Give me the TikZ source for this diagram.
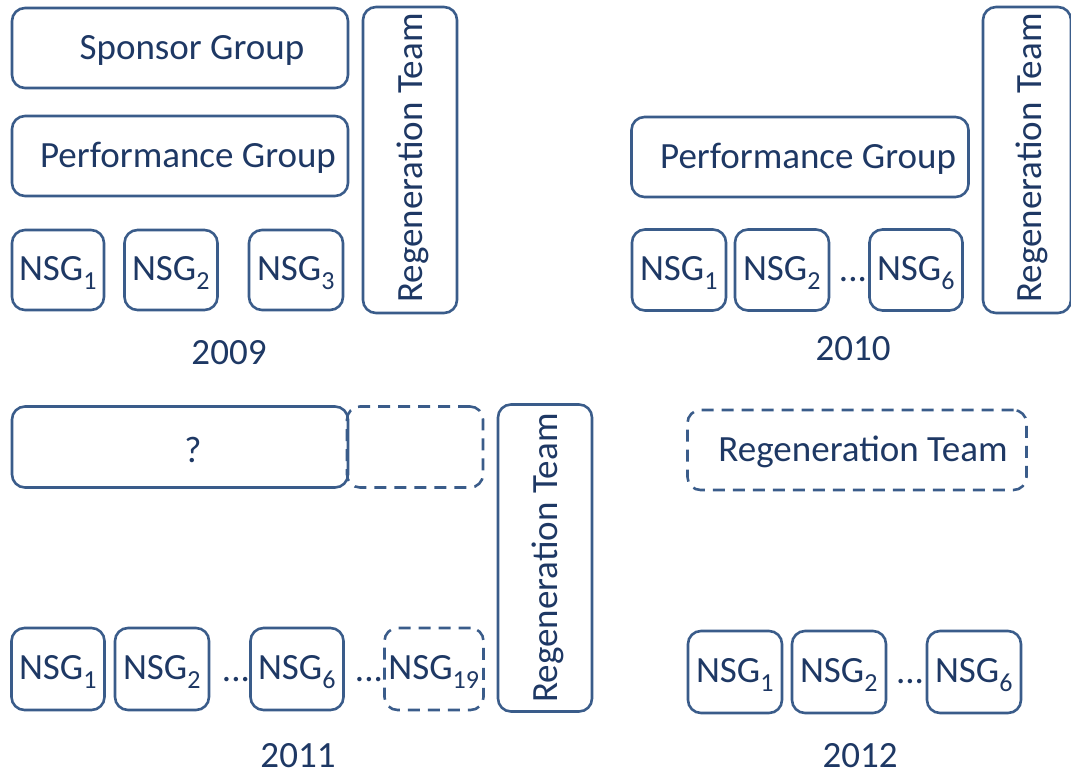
\documentclass[tikz,border=0pt]{standalone}
\usepackage{fontspec}
\setmainfont{Carlito}
\definecolor{boxcol}{RGB}{58,92,138}
\definecolor{txtcol}{RGB}{30,56,100}
\begin{document}
\begin{tikzpicture}[x=1pt,y=-1pt,
  box/.style={draw=boxcol,line width=2.6pt,rounded corners=13pt,inner sep=0pt},
  dbox/.style={box,dash pattern=on 12pt off 8pt},
  lbl/.style={text=txtcol,font=\fontsize{37}{44}\selectfont,inner sep=0pt},
]
\useasboundingbox (0,0) rectangle (1071,782);
\newcommand{\nsg}[1]{NSG\textsubscript{\fontsize{26}{30}\selectfont#1}}
% ---------- 2009 ----------
\node[box,minimum width=336,minimum height=80] (sg9) at (180,48) {};
\node[lbl] (sg9t) at (192,50) {Sponsor Group};
\node[box,minimum width=336,minimum height=80] (pg9) at (180,156) {};
\node[lbl] (pg9t) at (188,158) {Performance Group};
\node[box,minimum width=92,minimum height=80] (n91) at (58,270) {};
\node[lbl] (n91t) at (58,273) {\nsg{1}};
\node[box,minimum width=93,minimum height=80] (n92) at (171,270) {};
\node[lbl] (n92t) at (171,273) {\nsg{2}};
\node[box,minimum width=94,minimum height=80] (n93) at (296,270) {};
\node[lbl] (n93t) at (296,273) {\nsg{3}};
\node[box,minimum width=94,minimum height=306] (rt9) at (410,160) {};
\node[lbl,rotate=90] (rt9t) at (413,158) {Regeneration Team};
\node[lbl] (y9) at (229,353) {2009};
% ---------- 2010 ----------
\node[box,minimum width=337,minimum height=80] (pg10) at (800,157) {};
\node[lbl] (pg10t) at (808,159) {Performance Group};
\node[box,minimum width=94,minimum height=81] (n101) at (679,270) {};
\node[lbl] (n101t) at (679,273) {\nsg{1}};
\node[box,minimum width=94,minimum height=81] (n102) at (782,270) {};
\node[lbl] (n102t) at (782,273) {\nsg{2}};
\node[lbl] (d10) at (853,280) {...};
\node[box,minimum width=93,minimum height=81] (n106) at (916,270) {};
\node[lbl] (n106t) at (916,273) {\nsg{6}};
\node[box,minimum width=88,minimum height=306] (rt10) at (1027,160) {};
\node[lbl,rotate=90] (rt10t) at (1032,158) {Regeneration Team};
\node[lbl] (y10) at (853,349) {2010};
% ---------- 2011 ----------
\node[box,minimum width=336,minimum height=81] (q11) at (180,447) {};
\node[lbl] (q11t) at (193,450) {?};
\node[dbox,minimum width=136,minimum height=81] (e11) at (415,447) {};
\node[box,minimum width=94,minimum height=307] (rt11) at (545,558) {};
\node[lbl,rotate=90] (rt11t) at (548,558) {Regeneration Team};
\node[box,minimum width=93,minimum height=82] (n111) at (58,669) {};
\node[lbl] (n111t) at (58,672) {\nsg{1}};
\node[box,minimum width=94,minimum height=82] (n112) at (162,669) {};
\node[lbl] (n112t) at (162,672) {\nsg{2}};
\node[lbl] (d111) at (236,680) {...};
\node[box,minimum width=93,minimum height=82] (n116) at (297,669) {};
\node[lbl] (n116t) at (297,672) {\nsg{6}};
\node[lbl] (d112) at (369,680) {...};
\node[dbox,minimum width=99,minimum height=82] (n1119) at (434,669) {};
\node[lbl] (n1119t) at (434,672) {\nsg{19}};
\node[lbl] (y11) at (298,756) {2011};
% ---------- 2012 ----------
\node[dbox,minimum width=339,minimum height=80] (rt12) at (857,450) {};
\node[lbl] (rt12t) at (863,452) {Regeneration Team};
\node[box,minimum width=94,minimum height=82] (n121) at (735,672) {};
\node[lbl] (n121t) at (735,675) {\nsg{1}};
\node[box,minimum width=94,minimum height=82] (n122) at (839,672) {};
\node[lbl] (n122t) at (839,675) {\nsg{2}};
\node[lbl] (d12) at (910,682) {...};
\node[box,minimum width=94,minimum height=82] (n126) at (974,672) {};
\node[lbl] (n126t) at (974,675) {\nsg{6}};
\node[lbl] (y12) at (860,756) {2012};
\end{tikzpicture}
\end{document}
